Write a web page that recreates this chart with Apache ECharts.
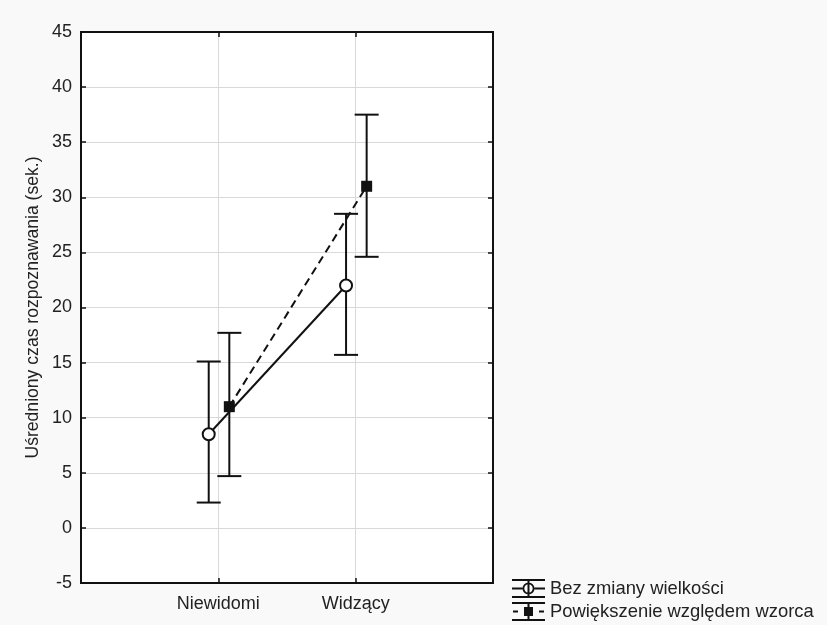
<!DOCTYPE html>
<html><head><meta charset="utf-8">
<script src="https://cdn.jsdelivr.net/npm/echarts@6/dist/echarts.min.js"></script>
<style>html,body{margin:0;padding:0;background:#f9f9f9}#c{width:827px;height:625px}</style>
</head><body><div id="c"></div>
<script>
const categories = ['Niewidomi', 'Widzący'];
const seriesNames = ['Bez zmiany wielkości', 'Powiększenie względem wzorca'];
const meanBez = [8.5, 22.0];
const lowBez = [2.3, 15.7];
const highBez = [15.1, 28.5];
const meanPow = [11.0, 31.0];
const lowPow = [4.7, 24.6];
const highPow = [17.7, 37.5];
const yMin = -5, yMax = 45, yStep = 5;
const offsets = [-0.07, 0.08];

const ink = '#111';
const font = 'Liberation Sans, Arial, sans-serif';

function pts(means, k) { return categories.map((c, i) => [i + 1 + offsets[k], means[i]]); }
function bars(lows, highs, k) { return categories.map((c, i) => [i + 1 + offsets[k], lows[i], highs[i]]); }

function renderBar(params, api) {
  const x = api.value(0);
  const lo = api.coord([x, api.value(1)]);
  const hi = api.coord([x, api.value(2)]);
  const hw = 12;
  const st = { stroke: ink, lineWidth: 2 };
  return { type: 'group', children: [
    { type: 'line', shape: { x1: lo[0], y1: lo[1], x2: hi[0], y2: hi[1] }, style: st },
    { type: 'line', shape: { x1: lo[0] - hw, y1: lo[1], x2: lo[0] + hw, y2: lo[1] }, style: st },
    { type: 'line', shape: { x1: hi[0] - hw, y1: hi[1], x2: hi[0] + hw, y2: hi[1] }, style: st }
  ] };
}

const iconBez = 'path://M0 0H33V2H0Z M0 17H33V19H0Z M0 8.5H10.5V10.5H0Z M22.5 8.5H33V10.5H22.5Z M15.5 0H17.5V19H15.5Z ' +
  'M22.5 9.5A6 6 0 1 1 10.5 9.5A6 6 0 1 1 22.5 9.5Z M20.7 9.5A4.2 4.2 0 1 0 12.3 9.5A4.2 4.2 0 1 0 20.7 9.5Z';
const iconPow = 'path://M0 0H33V2H0Z M0 17H33V19H0Z M1 8.5H6V10.5H1Z M27 8.5H32V10.5H27Z M15.5 0H17.5V19H15.5Z M12 5H21V14H12Z';

const axisCommon = {
  axisLine: { show: true, onZero: false, lineStyle: { color: ink, width: 2 } },
  axisTick: { show: true, inside: true, length: 5, lineStyle: { color: ink, width: 1.5 } }
};

const chart = echarts.init(document.getElementById('c'), null, { renderer: 'canvas' });
chart.setOption({
  backgroundColor: '#f9f9f9',
  animation: false,
  textStyle: { fontFamily: font },
  grid: { left: 81, right: 334, top: 32, bottom: 42, show: true, backgroundColor: '#fff', borderColor: ink, borderWidth: 2 },
  legend: {
    orient: 'vertical', left: 512, top: 579, padding: 0, itemWidth: 33, itemHeight: 19, itemGap: 4,
    textStyle: { fontSize: 18.4, color: '#222', fontFamily: font },
    data: [
      { name: seriesNames[0], icon: iconBez, itemStyle: { color: ink, borderWidth: 0 } },
      { name: seriesNames[1], icon: iconPow, itemStyle: { color: ink, borderWidth: 0 } }
    ]
  },
  xAxis: [
    Object.assign({ type: 'value', position: 'bottom', min: 0, max: 3, interval: 1,
      axisLabel: { fontSize: 18, color: '#222', margin: 12, formatter: v => categories[v - 1] || '' },
      splitLine: { show: true, lineStyle: { color: '#d9d9d9', width: 1 } } }, axisCommon),
    Object.assign({ type: 'value', position: 'top', min: 0, max: 3, interval: 1,
      axisLabel: { show: false }, splitLine: { show: false } }, axisCommon)
  ],
  yAxis: [
    Object.assign({ type: 'value', position: 'left', min: yMin, max: yMax, interval: yStep,
      name: 'Uśredniony czas rozpoznawania (sek.)', nameLocation: 'middle', nameGap: 39,
      nameTextStyle: { fontSize: 17.6, color: '#222' },
      axisLabel: { fontSize: 18, color: '#222', margin: 9 },
      splitLine: { show: true, lineStyle: { color: '#d9d9d9', width: 1 } } }, axisCommon),
    Object.assign({ type: 'value', position: 'right', min: yMin, max: yMax, interval: yStep,
      axisLabel: { show: false }, splitLine: { show: false } }, axisCommon)
  ],
  series: [
    { name: seriesNames[0], type: 'custom', renderItem: renderBar, data: bars(lowBez, highBez, 0), encode: { x: 0, y: [1, 2] }, z: 2 },
    { name: seriesNames[1], type: 'custom', renderItem: renderBar, data: bars(lowPow, highPow, 1), encode: { x: 0, y: [1, 2] }, z: 2 },
    { name: seriesNames[0], type: 'line', data: pts(meanBez, 0), symbol: 'circle', symbolSize: 12,
      itemStyle: { color: '#fff', borderColor: ink, borderWidth: 2 }, lineStyle: { color: ink, width: 2 }, z: 3 },
    { name: seriesNames[1], type: 'line', data: pts(meanPow, 1), symbol: 'rect', symbolSize: 11,
      itemStyle: { color: ink }, lineStyle: { color: ink, width: 2, type: [8, 5] }, z: 4 }
  ]
});
</script></body></html>
